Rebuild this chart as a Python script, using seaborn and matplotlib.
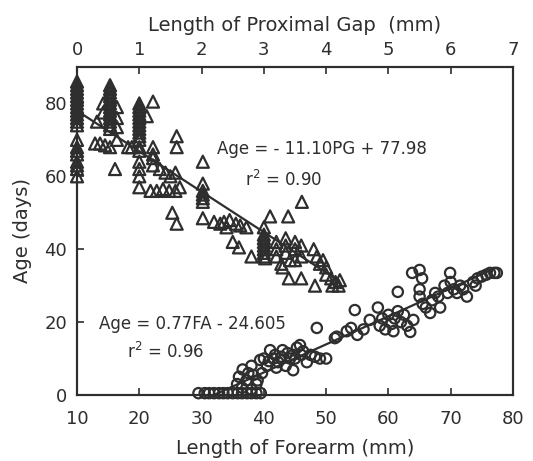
import matplotlib
matplotlib.use("Agg")
import matplotlib.pyplot as plt
import seaborn as sns
import numpy as np
import pandas as pd

# ---- Proximal gap (top axis) vs age : triangles ----
gap_pg = [0.00, 0.00, 0.00, 0.00, 0.00, 0.00, 0.00, 0.00, 0.00, 0.00, 0.00, 0.00, 0.00,
          0.00, 0.00, 0.00, 0.00, 0.00, 0.00, 0.00, 0.00,
          0.29, 0.37, 0.45, 0.32, 0.42, 0.42,
          0.53, 0.53, 0.53, 0.53, 0.53, 0.53, 0.53, 0.53, 0.53, 0.53, 0.53, 0.53, 0.53, 0.53,
          0.61, 0.64, 0.64, 0.64, 0.64,
          0.82, 0.88,
          1.00, 1.00, 1.00, 1.00, 1.00, 1.00, 1.00, 1.00, 1.00, 1.00, 1.00, 1.00, 1.00, 1.00, 1.00, 1.00, 1.00,
          1.12, 1.22, 1.22, 1.22, 1.22, 1.22,
          1.18, 1.28, 1.38, 1.48, 1.58, 1.65,
          1.33, 1.42, 1.50, 1.58,
          1.60, 1.60,
          1.53, 1.60,
          2.02, 2.02, 2.02, 2.02, 2.02, 2.02, 2.02,
          2.20, 2.30, 2.36, 2.45, 2.55, 2.62, 2.72, 2.40,
          2.50, 2.60, 2.80,
          3.00, 3.00, 3.00, 3.00, 3.00, 3.00, 3.00, 3.00, 3.02,
          3.10, 3.39, 3.61,
          3.20, 3.20, 3.20, 3.35, 3.35, 3.35, 3.50, 3.50, 3.50, 3.60, 3.60, 3.28, 3.42,
          3.30, 3.40, 3.60,
          3.80, 3.85, 3.90, 4.00, 3.95,
          3.82,
          4.00, 4.08, 4.15, 4.20, 4.10, 4.22]
gap_age = [86, 85, 84, 83, 82, 81, 80, 79, 78, 77, 76, 75, 74,
           70, 68, 67, 66, 64, 63, 62, 60,
           69, 69, 68.5, 75, 80, 77.5,
           85, 84, 83, 82, 81, 80, 79, 78, 77, 76, 75, 74, 73, 68,
           62, 79, 76, 73.5, 70,
           68, 68,
           80, 79, 78, 77, 76, 75, 74, 73, 72, 71, 70, 68, 67, 64, 62, 60, 57,
           76.5, 80.5, 68, 66, 65, 63,
           56, 56, 56.5, 56, 56, 57,
           62, 61, 60, 61,
           71, 68,
           50, 47,
           64, 58, 56, 55, 54, 53, 48.5,
           47.5, 47, 47.5, 48, 47, 46.5, 46, 46,
           42, 40.5, 38,
           46, 44, 43, 42, 41, 40, 39, 38, 37.5,
           49, 49, 53,
           42, 40, 38, 43, 41, 39, 42, 40, 37, 41, 38, 36, 37,
           35, 32, 32,
           40, 38, 36, 35, 37,
           30,
           33, 32, 31, 30, 30, 31.5]

# ---- Forearm length (bottom axis) vs age : circles ----
arm_fa = [29.5, 30.5, 31.2, 32.0, 32.8, 33.5, 34.2, 35.0, 35.8, 36.5, 37.3, 38.0, 38.8, 39.5,
          35.7, 36.5, 37.2, 38.0, 38.8, 36.0,
          36.6, 37.5, 38.3, 39.0, 39.7, 38.0,
          39.4, 40.5, 41.0, 41.5, 42.3, 43.0, 43.5, 44.2, 44.7, 44.7, 45.3, 45.8, 46.3, 46.9,
          47.5, 48.2, 49.0, 50.0, 48.5, 51.4,
          40.0, 41.8, 42.8, 43.8, 45.0, 46.0, 40.8, 42.0,
          51.7, 53.3, 54.0, 55.0, 56.0, 54.6, 57.0, 58.3, 58.6, 59.0, 59.5, 60.0, 60.5, 61.0,
          61.5, 62.0, 62.5, 63.0, 63.5, 60.8, 61.5, 64.0,
          63.8, 65.0, 65.4, 65.0, 65.0, 65.5, 66.0, 66.7, 67.0, 67.5, 68.0, 68.3, 69.0, 69.5,
          70.0, 70.5, 71.0, 71.5, 72.0, 72.6, 69.9,
          73.6, 74.3, 75.0, 75.7, 76.3, 77.0, 77.4, 74.0]
arm_age = [0.5, 0.5, 0.5, 0.5, 0.5, 0.5, 0.5, 0.5, 0.5, 0.5, 0.5, 0.5, 0.5, 0.5,
           3, 2, 4, 1.5, 3, 5,
           7, 6, 5.5, 4, 6, 8,
           9.6, 8, 12.3, 10, 9, 12.3, 8, 10, 6.8, 11, 13, 13.7, 12, 9,
           11, 10.5, 10, 10, 18.4, 15.6,
           10, 11, 10.5, 11.5, 10, 11, 9.3, 7.5,
           16, 17.5, 18.4, 16.5, 18, 23.3, 20.6, 24, 19, 21, 18, 22, 19.5, 21,
           23, 20, 22, 19, 17.3, 17.5, 28.3, 20.6,
           33.5, 34.3, 32, 29, 27, 25, 24, 22.5, 26, 28, 27, 24, 30, 28,
           31, 29, 28, 30, 29, 27, 33.5,
           31, 32, 32.5, 33, 33.5, 33.5, 33.5, 30]

# ---- regression equations ----
gap_slope, gap_icpt = -11.10, 77.98
arm_slope, arm_icpt = 0.77, -24.605
gap_line_x = [0.0, 4.2]
arm_line_x = [32.0, 77.0]

gap_text = ["Age = - 11.10PG + 77.98", "r$^2$ = 0.90"]
arm_text = ["Age = 0.77FA - 24.605", "r$^2$ = 0.96"]

# ---------------------------------------------------------------
sns.set_theme(style="ticks")
plt.rcParams['font.family'] = ['DejaVu Sans']
ink = "#2e2e2e"

fig = plt.figure(figsize=(5.33, 4.61), dpi=100)
ax = fig.add_axes([0.1445, 0.1432, 0.818, 0.7115])
ax2 = ax.twiny()

arm_df = pd.DataFrame({"fa": arm_fa, "age": arm_age})
gap_df = pd.DataFrame({"pg": gap_pg, "age": gap_age})

sns.scatterplot(data=arm_df, x="fa", y="age", ax=ax, marker="o", s=55,
                facecolor="none", edgecolor=ink, linewidth=1.6, clip_on=False, zorder=3)
lx = np.array(arm_line_x)
sns.lineplot(x=lx, y=arm_slope * lx + arm_icpt, ax=ax, color=ink, linewidth=1.6)

sns.scatterplot(data=gap_df, x="pg", y="age", ax=ax2, marker="^", s=75,
                facecolor="none", edgecolor=ink, linewidth=1.6, clip_on=False, zorder=3)
gx = np.array(gap_line_x)
sns.lineplot(x=gx, y=gap_slope * gx + gap_icpt, ax=ax2, color=ink, linewidth=1.6)

ax.set_xlim(10, 80)
ax.set_ylim(0, 90)
ax2.set_xlim(0, 7)
ax.set_xticks(range(10, 81, 10))
ax.set_yticks(range(0, 81, 20))
ax2.set_xticks(range(0, 8))

fs_lab = 14
fs_tick = 13
ax.set_xlabel("Length of Forearm (mm)", fontsize=fs_lab, color=ink, labelpad=8)
ax.set_ylabel("Age (days)", fontsize=fs_lab, color=ink, labelpad=9)
ax2.set_xlabel("Length of Proximal Gap  (mm)", fontsize=fs_lab, color=ink, labelpad=7)

for a in (ax, ax2):
    a.tick_params(direction="in", length=5, width=1.2, colors=ink, labelsize=fs_tick, pad=11)
    for sp in a.spines.values():
        sp.set_visible(True)
        sp.set_linewidth(1.5)
        sp.set_color(ink)
ax.tick_params(axis="y", pad=7)
ax2.tick_params(axis="x", pad=6)

fs_eq = 12
ax.text(32.5, 67.5, gap_text[0], fontsize=fs_eq, color=ink, va="center")
ax.text(37.0, 59.0, gap_text[1], fontsize=fs_eq, color=ink, va="center")
ax.text(13.5, 19.5, arm_text[0], fontsize=fs_eq, color=ink, va="center")
ax.text(18.0, 11.8, arm_text[1], fontsize=fs_eq, color=ink, va="center")

fig.savefig("out.png", dpi=100, facecolor="white")
